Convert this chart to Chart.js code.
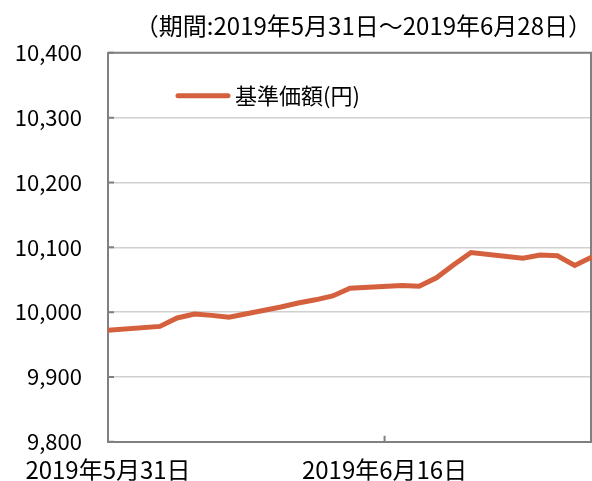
<!DOCTYPE html>
<html>
<head>
<meta charset="utf-8">
<script src="https://cdn.jsdelivr.net/npm/chart.js@4.4.1/dist/chart.umd.min.js"></script>
<style>
    html, body { margin: 0; padding: 0; background: #ffffff; }
    #container { width: 592px; height: 481px; }
</style>
</head>
<body>
<div id="container"><canvas id="canvas"></canvas></div>
<script>
    // 데이터
    const sTitle = "（期間:2019年5月31日～2019年6月28日）";
    const sSeriesLabel = "基準価額(円)";
    const aDates = [
        "2019-05-31", "2019-06-03", "2019-06-04", "2019-06-05", "2019-06-06", "2019-06-07",
        "2019-06-10", "2019-06-11", "2019-06-12", "2019-06-13", "2019-06-14",
        "2019-06-17", "2019-06-18", "2019-06-19", "2019-06-20", "2019-06-21",
        "2019-06-24", "2019-06-25", "2019-06-26", "2019-06-27", "2019-06-28"
    ];
    const aValues = [
        9972, 9978, 9991, 9997, 9995, 9992,
        10008, 10014, 10019, 10025, 10037,
        10041, 10040, 10053, 10073, 10092,
        10083, 10088, 10087, 10072, 10085
    ];
    const aTickDates = ["2019-05-31", "2019-06-16"];
    const aTickLabels = ["2019年5月31日", "2019年6月16日"];
    const aYTicks = [9800, 9900, 10000, 10100, 10200, 10300, 10400];

    const iDay0 = Date.parse(aDates[0]);
    const fnDay = (s) => Math.round((Date.parse(s) - iDay0) / 86400000);
    const aTickDays = aTickDates.map(fnDay);

    const sLineColor = "#d5603d";
    const sAxisColor = "#808080";

    Chart.defaults.font.family = "'Noto Sans CJK JP', sans-serif";
    Chart.defaults.font.size = 22;
    Chart.defaults.color = "#000000";

    // 외곽선 및 안쪽 눈금
    const oFramePlugin = {
        id: "frame",
        beforeDatasetsDraw(chart) {
            const { ctx, chartArea: a, scales } = chart;
            ctx.save();
            ctx.strokeStyle = sAxisColor;
            ctx.lineWidth = 2;
            ctx.beginPath();
            ctx.moveTo(a.left, a.top);
            ctx.lineTo(a.right - 1, a.top);
            ctx.lineTo(a.right - 1, a.bottom);
            ctx.stroke();
            ctx.beginPath();
            aYTicks.forEach(v => {
                const y = scales.y.getPixelForValue(v);
                ctx.moveTo(a.left, y);
                ctx.lineTo(a.left + 6, y);
            });
            aTickDays.forEach(d => {
                const x = scales.x.getPixelForValue(d);
                ctx.moveTo(x, a.bottom);
                ctx.lineTo(x, a.bottom - 6);
            });
            ctx.stroke();
            ctx.restore();
        }
    };

    // 범례 (차트 영역 안쪽)
    const oLegendPlugin = {
        id: "innerLegend",
        afterDraw(chart) {
            const { ctx, chartArea: a } = chart;
            const x = a.left + 70, y = a.top + 43;
            ctx.save();
            ctx.strokeStyle = sLineColor;
            ctx.lineWidth = 5;
            ctx.lineCap = "round";
            ctx.beginPath();
            ctx.moveTo(x, y);
            ctx.lineTo(x + 50, y);
            ctx.stroke();
            ctx.fillStyle = "#000000";
            ctx.font = "22px 'Noto Sans CJK JP', sans-serif";
            ctx.textBaseline = "middle";
            ctx.fillText(sSeriesLabel, x + 57, y);
            ctx.restore();
        }
    };

    const ctx = document.getElementById("canvas").getContext("2d");
    new Chart(ctx, {
        type: "line",
        data: {
            datasets: [{
                label: sSeriesLabel,
                data: aDates.map((d, i) => ({ x: fnDay(d), y: aValues[i] })),
                borderColor: sLineColor,
                backgroundColor: sLineColor,
                borderWidth: 5,
                pointRadius: 0,
                tension: 0
            }]
        },
        options: {
            responsive: true,
            maintainAspectRatio: false,
            animation: false,
            layout: { padding: { left: 0, right: 0, top: 0, bottom: 0 } },
            plugins: {
                legend: { display: false },
                tooltip: { enabled: false },
                title: {
                    display: true,
                    text: sTitle,
                    align: "end",
                    color: "#000000",
                    font: { size: 24, weight: "normal" },
                    padding: { top: 11, bottom: 13 }
                }
            },
            scales: {
                x: {
                    type: "linear",
                    min: 0,
                    max: fnDay(aDates[aDates.length - 1]),
                    afterBuildTicks: (scale) => { scale.ticks = aTickDays.map(v => ({ value: v })); },
                    afterFit: (scale) => { scale.height = 39; },
                    ticks: {
                        padding: 6,
                        maxRotation: 0,
                        autoSkip: false,
                        font: { size: 24 },
                        callback: (v) => aTickLabels[aTickDays.indexOf(v)]
                    },
                    grid: { display: false },
                    border: { display: true, color: sAxisColor, width: 2 }
                },
                y: {
                    min: 9800,
                    max: 10400,
                    afterBuildTicks: (scale) => { scale.ticks = aYTicks.map(v => ({ value: v })); },
                    afterFit: (scale) => { scale.width = 108; },
                    ticks: {
                        padding: 26,
                        callback: (v) => v.toLocaleString("en-US")
                    },
                    grid: { color: "#d0d0d0", lineWidth: 1.5, drawTicks: false },
                    border: { display: true, color: sAxisColor, width: 2 }
                }
            }
        },
        plugins: [oFramePlugin, oLegendPlugin]
    });
</script>
</body>
</html>
